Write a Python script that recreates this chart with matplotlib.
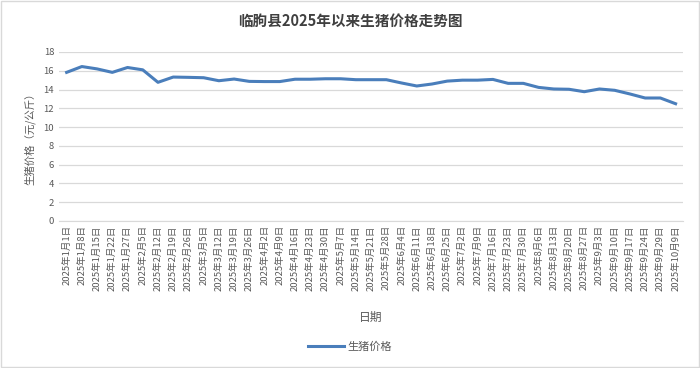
import matplotlib
matplotlib.use("Agg")
import matplotlib.pyplot as plt
from matplotlib.patches import Rectangle

plt.rcParams['font.family'] = ['Noto Sans CJK SC', 'DejaVu Sans']

# Data
dates = ["1月1日", "1月8日", "1月15日", "1月22日", "1月27日", "2月5日", "2月12日",
         "2月19日", "2月26日", "3月5日", "3月12日", "3月19日", "3月26日", "4月2日",
         "4月9日", "4月16日", "4月23日", "4月30日", "5月7日", "5月14日", "5月21日",
         "5月28日", "6月4日", "6月11日", "6月18日", "6月25日", "7月2日", "7月9日",
         "7月16日", "7月23日", "7月30日", "8月6日", "8月13日", "8月20日", "8月27日",
         "9月3日", "9月10日", "9月17日", "9月24日", "9月29日", "10月9日"]
labels = ["2025年" + d for d in dates]
prices = [15.83, 16.45, 16.2, 15.83, 16.35, 16.1, 14.77, 15.33, 15.3, 15.26,
          14.94, 15.12, 14.87, 14.85, 14.85, 15.1, 15.1, 15.15, 15.15, 15.05,
          15.05, 15.05, 14.7, 14.38, 14.59, 14.9, 15.0, 15.0, 15.08, 14.66,
          14.66, 14.23, 14.06, 14.03, 13.77, 14.06, 13.92, 13.53, 13.1, 13.1,
          12.49]

fig = plt.figure(figsize=(7, 3.68), dpi=100)
ax = fig.add_axes([0.0843, 0.3995, 0.8917, 0.4592])

x = list(range(len(prices)))
ax.plot(x, prices, color='#4A7EBB', lw=2.2, label='生猪价格', solid_joinstyle='round')

ax.set_xlim(-0.5, len(prices) - 0.5)
ax.set_ylim(0, 18)
ax.set_yticks(range(0, 19, 2))
ax.grid(axis='y', color='#D9D9D9', lw=0.9)
ax.set_axisbelow(True)
for s in ['top', 'right', 'left']:
    ax.spines[s].set_visible(False)
ax.spines['bottom'].set_color('#D9D9D9')
ax.set_xticks(x)
ax.set_xticklabels(labels, rotation=90, fontsize=6.3, color='#595959')
ax.tick_params(axis='both', length=0, labelsize=6.8, colors='#595959')
ax.tick_params(axis='x', pad=3)

ax.set_ylabel('生猪价格（元/公斤）', fontsize=7.5, color='#595959', labelpad=6)
ax.set_xlabel('日期', fontsize=8.5, color='#595959')
ax.xaxis.set_label_coords(0.5, -0.53)

fig.suptitle('临朐县2025年以来生猪价格走势图', x=0.5, y=0.965, fontsize=10.5,
             fontweight='bold', color='#404040')

leg = fig.legend(loc='center', bbox_to_anchor=(0.5, 0.057), frameon=False,
                 fontsize=8, handlelength=3.2, handletextpad=0.3)
for t in leg.get_texts():
    t.set_color('#595959')

fig.patches.append(Rectangle((0.001, 0.002), 0.997, 0.995, transform=fig.transFigure,
                             fill=False, edgecolor='#D9D9D9', lw=1))

fig.savefig('out.png', dpi=100)
